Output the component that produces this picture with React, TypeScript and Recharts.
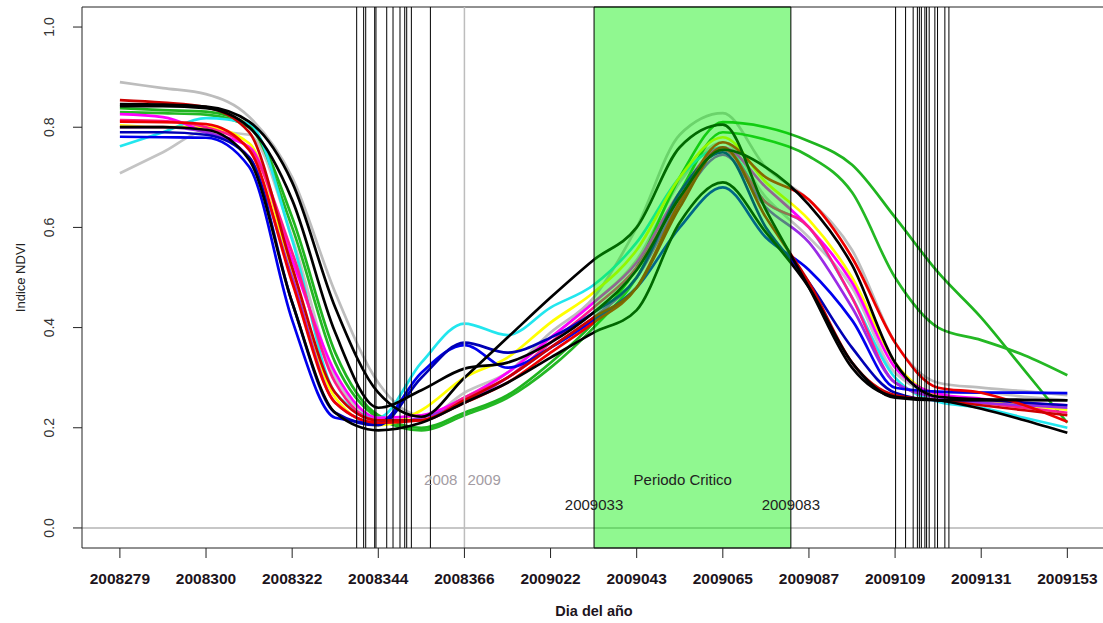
import React from 'react';
import { LineChart, Line, XAxis, YAxis, ReferenceArea, ReferenceLine, ReferenceDot } from 'recharts';

// x positions are expressed in axis-tick units (tick i = xTickLabels[i])
const sampleU = [0, 0.5, 1, 1.5, 2, 2.5, 3, 3.5, 4, 4.5, 5, 5.5, 6, 6.5, 7, 7.5, 8, 8.5, 9, 9.5, 10, 10.5, 11];
const xTickLabels = ['2008279', '2008300', '2008322', '2008344', '2008366', '2009022', '2009043', '2009065', '2009087', '2009109', '2009131', '2009153'];
const xTicks = [0, 1, 2, 3, 4, 5, 6, 7, 8, 9, 10, 11];
const yTicks = [0, 0.2, 0.4, 0.6, 0.8, 1.0];

const grayHigh = [0.89, 0.878, 0.866, 0.821, 0.70, 0.47, 0.29, 0.225, 0.26, 0.31, 0.39, 0.46, 0.60, 0.785, 0.828, 0.72, 0.655, 0.555, 0.37, 0.29, 0.28, 0.273, 0.265];
const grayLow = [0.708, 0.75, 0.792, 0.785, 0.58, 0.30, 0.22, 0.215, 0.27, 0.31, 0.38, 0.45, 0.535, 0.69, 0.77, 0.66, 0.58, 0.48, 0.31, 0.27, 0.27, 0.262, 0.255];
const greenA = [0.838, 0.834, 0.831, 0.804, 0.62, 0.35, 0.225, 0.20, 0.23, 0.265, 0.33, 0.41, 0.52, 0.70, 0.81, 0.80, 0.772, 0.725, 0.62, 0.51, 0.42, 0.315, 0.21];
const greenB = [0.83, 0.828, 0.825, 0.80, 0.60, 0.33, 0.22, 0.195, 0.225, 0.26, 0.32, 0.40, 0.50, 0.67, 0.79, 0.775, 0.742, 0.67, 0.50, 0.40, 0.375, 0.345, 0.305];
const cyan = [0.762, 0.79, 0.818, 0.807, 0.575, 0.27, 0.22, 0.33, 0.408, 0.385, 0.44, 0.485, 0.57, 0.70, 0.76, 0.65, 0.60, 0.46, 0.30, 0.252, 0.24, 0.22, 0.20];
const yellow = [0.804, 0.80, 0.80, 0.768, 0.51, 0.26, 0.205, 0.235, 0.30, 0.34, 0.41, 0.47, 0.555, 0.70, 0.78, 0.69, 0.615, 0.50, 0.33, 0.265, 0.255, 0.245, 0.236];
const magenta = [0.826, 0.82, 0.79, 0.761, 0.535, 0.31, 0.22, 0.225, 0.26, 0.31, 0.38, 0.45, 0.53, 0.67, 0.76, 0.68, 0.60, 0.49, 0.32, 0.268, 0.258, 0.25, 0.245];
const deepPink = [0.814, 0.812, 0.80, 0.758, 0.55, 0.29, 0.215, 0.215, 0.26, 0.30, 0.37, 0.44, 0.52, 0.66, 0.755, 0.65, 0.60, 0.46, 0.29, 0.26, 0.25, 0.24, 0.23];
const purple = [0.80, 0.80, 0.79, 0.74, 0.50, 0.25, 0.21, 0.22, 0.25, 0.30, 0.36, 0.42, 0.50, 0.65, 0.745, 0.64, 0.57, 0.44, 0.29, 0.26, 0.25, 0.245, 0.24];
const blue = [0.781, 0.78, 0.779, 0.721, 0.415, 0.22, 0.21, 0.31, 0.365, 0.32, 0.36, 0.415, 0.48, 0.60, 0.68, 0.58, 0.515, 0.415, 0.28, 0.272, 0.27, 0.27, 0.269];
const navy = [0.79, 0.79, 0.785, 0.74, 0.45, 0.23, 0.205, 0.30, 0.37, 0.35, 0.38, 0.43, 0.50, 0.67, 0.75, 0.60, 0.49, 0.36, 0.27, 0.255, 0.255, 0.25, 0.245];
const red = [0.811, 0.81, 0.806, 0.755, 0.49, 0.25, 0.21, 0.215, 0.25, 0.29, 0.35, 0.41, 0.48, 0.65, 0.77, 0.70, 0.655, 0.54, 0.37, 0.28, 0.27, 0.245, 0.212];
const darkRed = [0.854, 0.849, 0.84, 0.79, 0.52, 0.27, 0.215, 0.215, 0.255, 0.30, 0.36, 0.42, 0.48, 0.64, 0.76, 0.62, 0.49, 0.33, 0.265, 0.255, 0.245, 0.235, 0.225];
const blackBottom = [0.80, 0.80, 0.795, 0.735, 0.45, 0.23, 0.195, 0.21, 0.25, 0.29, 0.34, 0.39, 0.435, 0.61, 0.69, 0.59, 0.48, 0.33, 0.26, 0.255, 0.255, 0.255, 0.255];
const blackPlateau = [0.842, 0.842, 0.838, 0.80, 0.655, 0.39, 0.24, 0.275, 0.318, 0.33, 0.37, 0.43, 0.515, 0.66, 0.755, 0.72, 0.645, 0.525, 0.33, 0.262, 0.257, 0.256, 0.255];
const blackStraight = [0.846, 0.845, 0.841, 0.811, 0.69, 0.44, 0.27, 0.222, 0.30, 0.38, 0.46, 0.535, 0.60, 0.76, 0.805, 0.635, 0.48, 0.32, 0.262, 0.255, 0.238, 0.215, 0.19];

const seriesKeys = ['grayHigh', 'grayLow', 'greenA', 'greenB', 'cyan', 'yellow', 'magenta', 'deepPink', 'purple', 'blue', 'navy', 'red', 'darkRed', 'blackBottom', 'blackPlateau', 'blackStraight'];
const seriesValues = [grayHigh, grayLow, greenA, greenB, cyan, yellow, magenta, deepPink, purple, blue, navy, red, darkRed, blackBottom, blackPlateau, blackStraight];
const seriesColors = ['#bdbdbd', '#c4c4c4', '#1fb41f', '#24b824', '#22e6ee', '#ffff00', '#ff00ff', '#ff1a8c', '#9a2be6', '#0000ee', '#0000b4', '#ee0000', '#cc0000', '#000000', '#000000', '#000000'];

// vertical event lines (in tick units)
const eventLines = [2.749, 2.830, 2.854, 2.958, 2.973, 3.098, 3.171, 3.252, 3.307, 3.330, 3.384, 3.605,
  9.006, 9.122, 9.210, 9.259, 9.282, 9.305, 9.346, 9.366, 9.396, 9.462, 9.493, 9.578, 9.625];
const yearBoundary = 4;
const criticalStart = 5.505;
const criticalEnd = 7.79;

const annotationTexts = ['2008', '2009', 'Periodo Critico', '2009033', '2009083'];
const annotationU = [4, 4, 6.535, 5.505, 7.79];
const annotationV = [0.096, 0.096, 0.096, 0.046, 0.046];
const annotationAnchor = ['end', 'start', 'middle', 'middle', 'middle'];
const annotationDx = [-7, 3, 0, 0, 0];
const annotationColor = ['#a39ca3', '#a39ca3', '#222222', '#222222', '#222222'];

const data = sampleU.map((u, i) => {
  const row: any = { u };
  seriesKeys.forEach((k, j) => { row[k] = seriesValues[j][i]; });
  return row;
});

const FONT = 'Liberation Sans, Arial, Helvetica, sans-serif';
const X_MIN = -0.44;
const X_MAX = 11.414;
const Y_MIN = -0.04;
const Y_MAX = 1.04;

const XTick = (props: any) => {
  const { x, payload } = props;
  return (
    <text x={x} y={583.5} textAnchor="middle" fontSize={15.5} fontWeight="bold" fill="#1c141c" fontFamily={FONT}>
      {xTickLabels[payload.value]}
    </text>
  );
};

const YTick = (props: any) => {
  const { y, payload } = props;
  const bx = 54.5;
  return (
    <text x={bx} y={y} transform={`rotate(-90, ${bx}, ${y})`} textAnchor="middle" fontSize={14} fill="#333" fontFamily={FONT}>
      {Number(payload.value).toFixed(1)}
    </text>
  );
};

export default function App() {
  return (
    <div style={{ position: 'absolute', left: 0, top: 0, width: 1103, height: 623, background: '#fff', overflow: 'hidden' }}>
      <LineChart width={1103} height={623} data={data} margin={{ top: 7, right: 0, bottom: 0, left: 0 }}>
        <XAxis
          dataKey="u"
          type="number"
          domain={[X_MIN, X_MAX]}
          allowDataOverflow
          ticks={xTicks}
          interval={0}
          height={75}
          tickSize={10}
          tick={<XTick />}
          stroke="#222"
          axisLine={{ stroke: '#222' }}
          tickLine={{ stroke: '#222' }}
          label={() => (
            <text x={594} y={616} textAnchor="middle" fontSize={14.5} fontWeight="bold" fill="#1c141c" fontFamily={FONT}>Dia del año</text>
          )}
        />
        <YAxis
          type="number"
          domain={[Y_MIN, Y_MAX]}
          allowDataOverflow
          ticks={yTicks}
          width={82}
          tickSize={9}
          tick={<YTick />}
          axisLine={{ stroke: '#222' }}
          tickLine={{ stroke: '#222' }}
          label={() => (
            <text x={25} y={277.5} transform="rotate(-90, 25, 277.5)" textAnchor="middle" fontSize={13} fill="#222" fontFamily={FONT}>Indice NDVI</text>
          )}
        />
        <ReferenceLine y={Y_MAX} stroke="#222" strokeWidth={1} />
        <ReferenceLine y={0} stroke="#b4b4b4" strokeWidth={1.5} />
        {seriesKeys.map((k, j) => (
          <Line
            key={k}
            type="monotone"
            dataKey={k}
            stroke={seriesColors[j]}
            strokeWidth={2.7}
            dot={false}
            activeDot={false}
            isAnimationActive={false}
          />
        ))}
        {eventLines.map((u, i) => (
          <ReferenceLine key={'ev' + i} x={u} stroke="#000" strokeWidth={1} zIndex={450} />
        ))}
        <ReferenceLine x={yearBoundary} stroke="#bdbdbd" strokeWidth={1.5} zIndex={450} />
        <ReferenceArea
          x1={criticalStart}
          x2={criticalEnd}
          y1={Y_MIN}
          y2={Y_MAX}
          fill="#00ee00"
          fillOpacity={0.435}
          stroke="#000"
          strokeWidth={1}
          strokeOpacity={1}
          zIndex={460}
        />
        {annotationTexts.map((t, i) => (
          <ReferenceDot
            key={'an' + i}
            x={annotationU[i]}
            y={annotationV[i]}
            r={0}
            zIndex={470}
            shape={(p: any) => (
              <text x={p.cx + annotationDx[i]} y={p.cy} dy="0.36em" textAnchor={annotationAnchor[i] as any} fontSize={15} fill={annotationColor[i]} fontFamily={FONT}>{t}</text>
            )}
          />
        ))}
      </LineChart>
    </div>
  );
}
